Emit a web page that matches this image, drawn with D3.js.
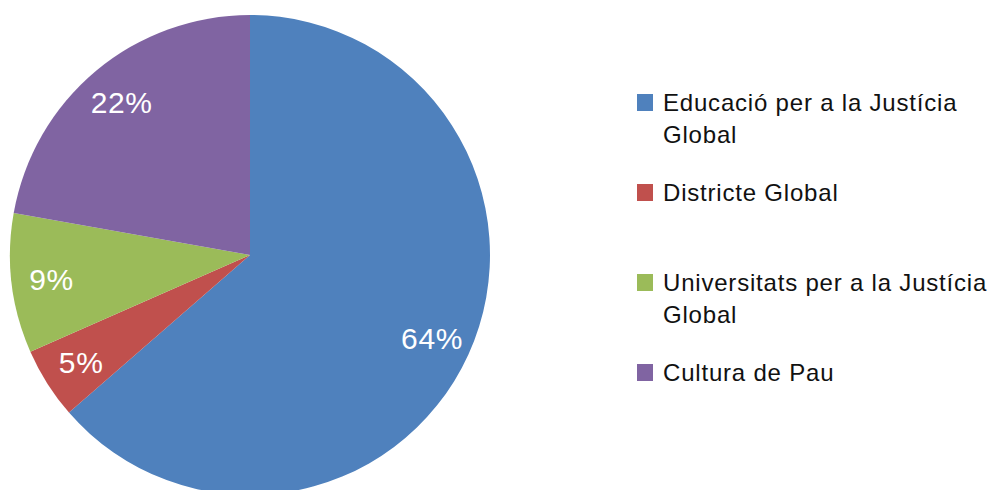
<!DOCTYPE html>
<html>
<head>
<meta charset="utf-8">
<script src="https://cdn.jsdelivr.net/npm/d3@7"></script>
<style>
    body { margin: 0; background: #fff; }
    #chart { width: 989px; height: 490px; }
    text { font-family: Helvetica, Arial, "Liberation Sans", sans-serif; }
</style>
</head>
<body>
<div id="chart"></div>
<script>
// data (shares in %)
const categories = ["Educació per a la Justícia Global", "Districte Global",
    "Universitats per a la Justícia Global", "Cultura de Pau"];
const values = [63.6, 4.8, 9.4, 22.2];
const colors = ["#4F81BD", "#C0504D", "#9BBB59", "#8064A2"];
// legend text split into lines as in the original
const legendLines = [["Educació per a la Justícia", "Global"], ["Districte Global"],
    ["Universitats per a la Justícia", "Global"], ["Cultura de Pau"]];

const width = 989, height = 490;
const cx = 250, cy = 255, radius = 240;

const svg = d3.select("#chart")
    .append("svg")
    .attr("width", width)
    .attr("height", height);

const pieData = d3.pie().sort(null)(values);
const arc = d3.arc().innerRadius(0).outerRadius(radius);
const labelArc = d3.arc().innerRadius(200).outerRadius(200);

const g = svg.append("g").attr("transform", `translate(${cx},${cy})`);

g.selectAll("path")
    .data(pieData)
    .enter()
    .append("path")
        .attr("d", arc)
        .attr("fill", function(d, i) { return colors[i]; });

g.selectAll("text.pct")
    .data(pieData)
    .enter()
    .append("text")
        .attr("class", "pct")
        .attr("transform", function(d) { return `translate(${labelArc.centroid(d)})`; })
        .attr("text-anchor", "middle")
        .attr("dy", "0.36em")
        .attr("fill", "#fff")
        .attr("font-size", 30)
        .attr("letter-spacing", 0.6)
        .text(function(d) { return Math.round(d.data) + "%"; });

// legend
const legend = svg.append("g").attr("transform", "translate(637,111)");
const items = legend.selectAll("g")
    .data(categories)
    .enter()
    .append("g")
        .attr("transform", function(d, i) { return `translate(0,${i * 90})`; });

items.append("rect")
    .attr("x", 0)
    .attr("y", -17)
    .attr("width", 16)
    .attr("height", 17)
    .attr("fill", function(d, i) { return colors[i]; });

items.append("text")
    .attr("x", 26)
    .attr("font-size", 24)
    .attr("letter-spacing", 0.8)
    .attr("fill", "#111")
    .selectAll("tspan")
    .data(function(d, i) { return legendLines[i]; })
    .enter()
    .append("tspan")
        .attr("x", 26)
        .attr("y", function(d, j) { return j * 31.5; })
        .text(function(d) { return d; });
</script>
</body>
</html>
